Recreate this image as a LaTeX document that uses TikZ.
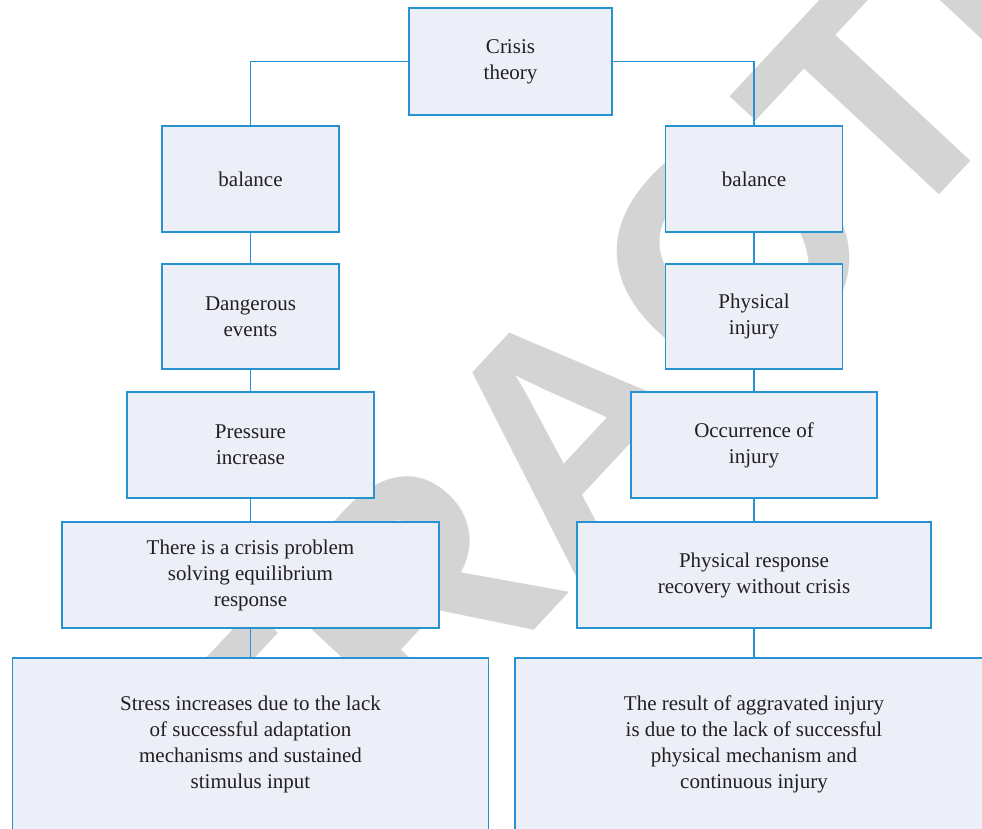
\documentclass[tikz,border=0pt]{standalone}
\usepackage{fontspec}
\setmainfont{Liberation Serif}
\setsansfont{Liberation Sans}
\definecolor{boxline}{RGB}{38,146,208}
\definecolor{boxfill}{RGB}{236,239,247}
\definecolor{wmgray}{RGB}{212,212,212}
\definecolor{ink}{RGB}{35,31,32}

\begin{document}
\begin{tikzpicture}[x=0.5pt, y=-0.5pt, line width=0.75pt,
    box/.style={draw=boxline, fill=boxfill, text=ink, align=center, inner sep=0pt,
        font=\fontsize{10.5}{13}\selectfont},
    link/.style={draw=boxline}]
    \clip (0,0) rectangle (982,829);
    % watermark behind everything
    \node[rotate=47, text=wmgray, inner sep=0pt,
        font=\fontsize{160}{160}\selectfont\sffamily\bfseries] (stamp) at (572,428) {RETRACTED};
    % top
    \node[box, minimum width=101.5pt, minimum height=53.5pt] (crisis) at (510.5,61.5) {Crisis\\theory};
    % left column
    \node[box, minimum width=88.5pt, minimum height=53pt] (balL) at (250.5,179) {balance};
    \node[box, minimum width=88.5pt, minimum height=52.5pt] (dang) at (250.5,316.5) {Dangerous\\events};
    \node[box, minimum width=123.5pt, minimum height=53pt] (press) at (250.5,445) {Pressure\\increase};
    \node[box, minimum width=188.5pt, minimum height=53pt] (solve) at (250.5,575) {There is a crisis problem\\solving equilibrium\\response};
    \node[box, minimum width=238pt, minimum height=86pt] (stress) at (250.5,744) {Stress increases due to the lack\\of successful adaptation\\mechanisms and sustained\\stimulus input};
    % right column
    \node[box, minimum width=88.5pt, minimum height=53pt] (balR) at (754,179) {balance};
    \node[box, minimum width=88.5pt, minimum height=52.5pt] (phys) at (754,316.5) {Physical\\injury};
    \node[box, minimum width=123pt, minimum height=53pt] (occ) at (754,445) {Occurrence of\\injury};
    \node[box, minimum width=177pt, minimum height=53pt] (resp) at (754,575) {Physical response\\recovery without crisis};
    \node[box, minimum width=239pt, minimum height=86pt] (result) at (754,744) {The result of aggravated injury\\is due to the lack of successful\\physical mechanism and\\continuous injury};
    % connectors
    \draw[link] (crisis.west) -| (balL.north);
    \draw[link] (crisis.east) -| (balR.north);
    \foreach \a/\b in {balL/dang, dang/press, press/solve, solve/stress,
                       balR/phys, phys/occ, occ/resp, resp/result}
        \draw[link] (\a.south) -- (\b.north);
\end{tikzpicture}
\end{document}
